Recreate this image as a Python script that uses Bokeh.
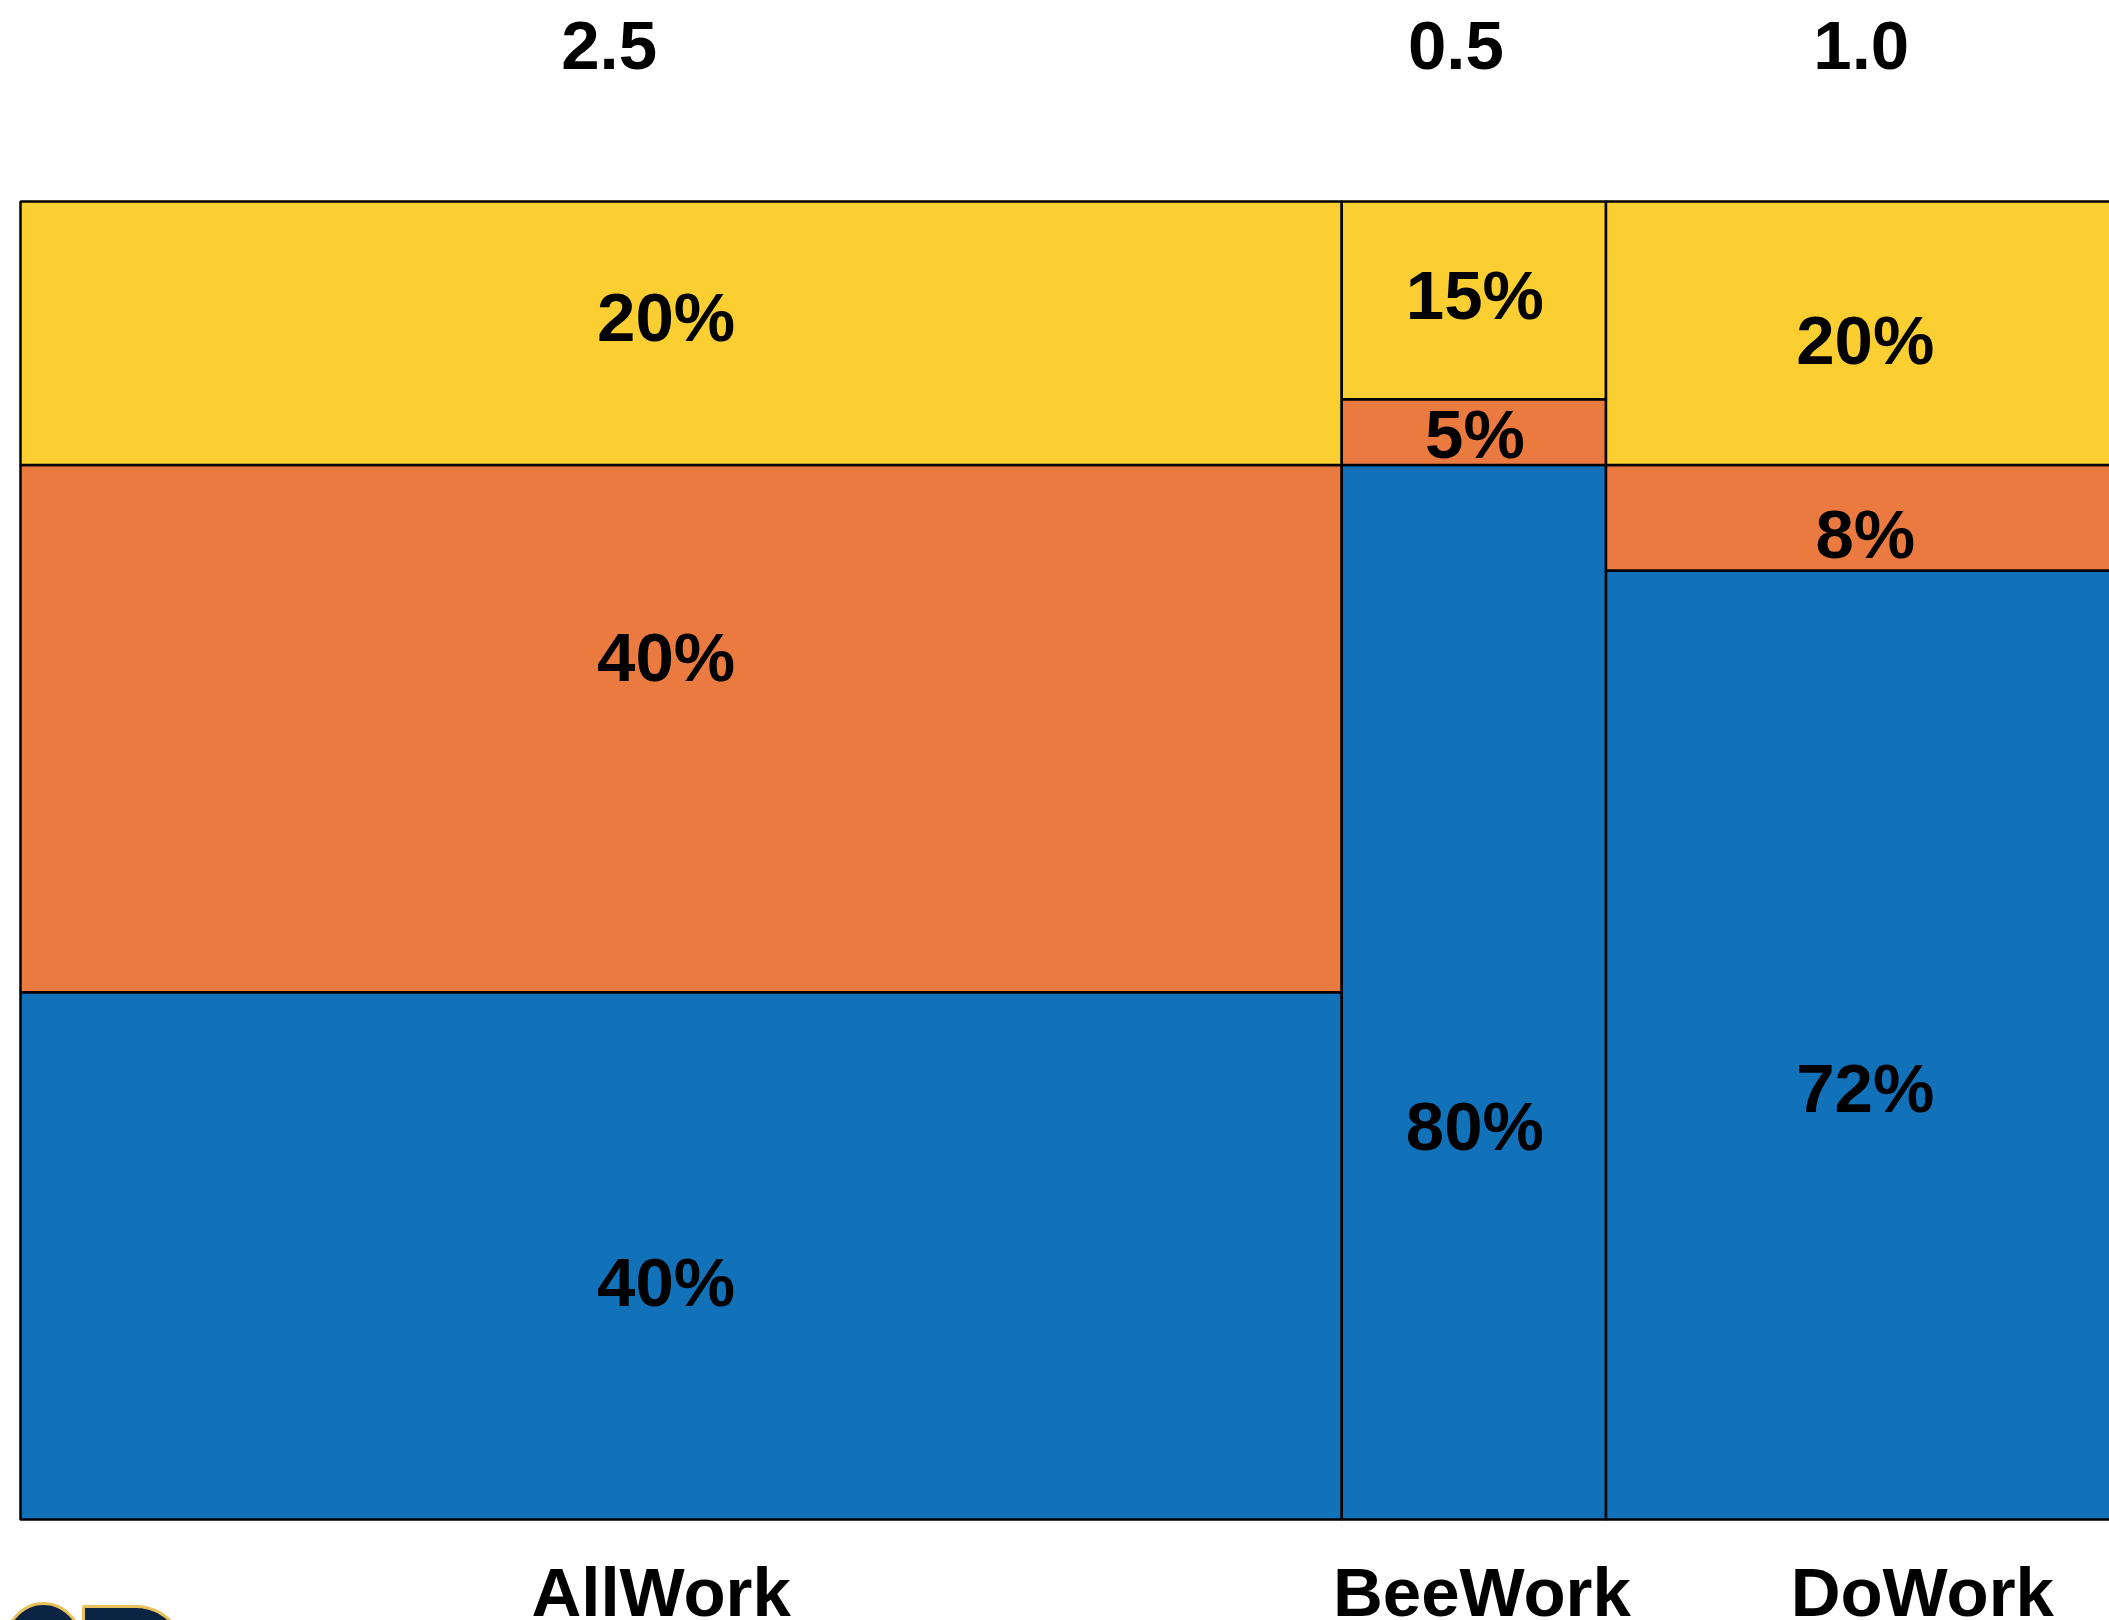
import numpy as np
from bokeh.plotting import figure
from bokeh.models import Range1d, ColumnDataSource
from bokeh.embed import file_html
from bokeh.resources import INLINE
from bokeh.core.properties import value

# ---- data -------------------------------------------------------------
categories = ["AllWork", "BeeWork", "DoWork"]
widths = [2.5, 0.5, 1.0]            # column width of each category
blue_pct = [40, 80, 72]             # bottom segment
orange_pct = [40, 5, 8]             # middle segment
yellow_pct = [20, 15, 20]           # top segment

series = [("blue", blue_pct), ("orange", orange_pct), ("yellow", yellow_pct)]
palette = {"blue": "#1172BA", "orange": "#EA7A3F", "yellow": "#FBCE31"}

# ---- layout (pixels) --------------------------------------------------
W, H = 2109, 1620
LEFT, TOP, BOTTOM = 20, 201, 1519
RIGHT_EDGE = 2134                    # mosaic runs slightly past the canvas
total_w = sum(widths)
SX = (RIGHT_EDGE - LEFT) / total_w   # px per width unit
SY = BOTTOM - TOP                    # px per unit share

FONT = value("Liberation Sans")
FONT_SIZE = "69px"
CAP_HALF = 25                        # half cap height, px
BASE_FIX = 23                        # renderer places alphabetic baseline lower

# small screen nudges for the labels (px, +right / +down)
pct_dx = [-15, 1, -5]
pct_dy = [[25, -73, -18], [132, 0, -7], [41, 15, 5]]
top_dx = [-72, -18, -9]
bottom_dx = [-20, 8, 52]
TOP_BASELINE = 68
BOTTOM_BASELINE = 1615


def to_x(px):
    return (px - LEFT) / SX


def to_y(py):
    return (BOTTOM - py) / SY


p = figure(
    width=W, height=H,
    x_range=Range1d(to_x(0), to_x(W)),
    y_range=Range1d(to_y(H), to_y(0)),
    x_axis_type=None, y_axis_type=None,
    toolbar_location=None, output_backend="svg",
    min_border=0,
)
p.outline_line_color = None
p.grid.visible = False
p.background_fill_color = "white"
p.border_fill_color = "white"

lefts = np.concatenate([[0.0], np.cumsum(widths)[:-1]])
rights = lefts + np.array(widths)
centers = (lefts + rights) / 2

# ---- mosaic tiles -------------------------------------------------------
q = dict(left=[], right=[], bottom=[], top=[], color=[])
lab = dict(x=[], y=[], text=[])
for i, cat in enumerate(categories):
    base = 0.0
    for k, (name, vals) in enumerate(series):
        h = vals[i] / 100.0
        q["left"].append(lefts[i])
        q["right"].append(rights[i])
        q["bottom"].append(base)
        q["top"].append(base + h)
        q["color"].append(palette[name])
        mid = base + h / 2
        lab["x"].append(centers[i] + pct_dx[i] / SX)
        lab["y"].append(mid - (pct_dy[i][k] + CAP_HALF - BASE_FIX) / SY)
        lab["text"].append(f"{vals[i]}%")
        base += h

p.quad(left="left", right="right", bottom="bottom", top="top",
       fill_color="color", line_color="black", line_width=2.5,
       source=ColumnDataSource(q))

p.text(x="x", y="y", text="text", source=ColumnDataSource(lab),
       text_font=FONT, text_font_style="bold", text_font_size=FONT_SIZE,
       text_color="black", text_align="center", text_baseline="alphabetic")

# ---- width labels above, category names below --------------------------
top_src = ColumnDataSource(dict(
    x=[c + d / SX for c, d in zip(centers, top_dx)],
    y=[to_y(TOP_BASELINE - BASE_FIX)] * len(widths),
    text=[f"{w:.1f}" for w in widths],
))
p.text(x="x", y="y", text="text", source=top_src,
       text_font=FONT, text_font_style="bold", text_font_size=FONT_SIZE,
       text_color="black", text_align="center", text_baseline="alphabetic")

bot_src = ColumnDataSource(dict(
    x=[c + d / SX for c, d in zip(centers, bottom_dx)],
    y=[to_y(BOTTOM_BASELINE - BASE_FIX)] * len(categories),
    text=categories,
))
p.text(x="x", y="y", text="text", source=bot_src,
       text_font=FONT, text_font_style="bold", text_font_size=FONT_SIZE,
       text_color="black", text_align="center", text_baseline="alphabetic")

# ---- corner logo (only its top edge shows) ------------------------------
NAVY, GOLD = "#0B2444", "#E9C15A"
p.ellipse(x=to_x(43), y=to_y(1652), width=82, height=98,
          width_units="screen", height_units="screen",
          fill_color=NAVY, line_color=GOLD, line_width=3)
t = np.linspace(0, np.pi / 2, 40)
dx_pts = [83, 83] + list(135 + 48 * np.sin(t)) + [83]
dy_pts = [1660, 1606] + list(1652 - 46 * np.cos(t)) + [1660]
p.patch(x=[to_x(v) for v in dx_pts], y=[to_y(v) for v in dy_pts],
        fill_color=NAVY, line_color=GOLD, line_width=3)

open("out.html", "w").write(file_html(p, INLINE))
